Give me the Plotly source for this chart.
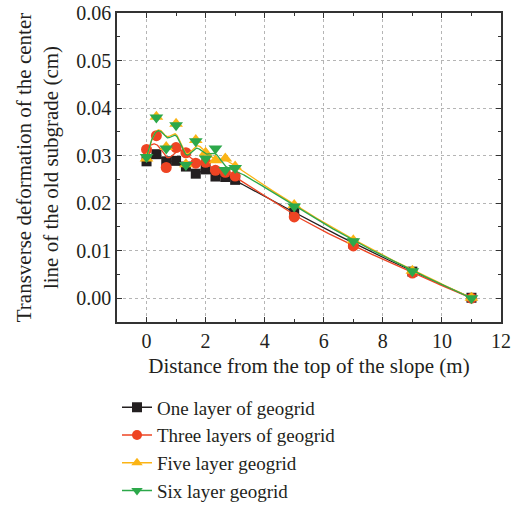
import numpy as np
import plotly.graph_objects as go

# ---------------- data ----------------
distance = [0, 1/3, 2/3, 1, 4/3, 5/3, 2, 7/3, 8/3, 3, 5, 7, 9, 11]
one_layer = [0.0288, 0.0303, 0.0288, 0.0289, 0.0277, 0.0262, 0.0271, 0.0256, 0.0255, 0.0249, 0.0180, 0.0115, 0.0056, 0.0001]
three_layers = [0.0313, 0.0342, 0.0275, 0.0317, 0.0306, 0.0284, 0.0286, 0.0269, 0.0265, 0.0257, 0.0171, 0.0110, 0.0053, 0.0000]
five_layers = [0.0294, 0.0382, 0.0318, 0.0367, 0.0282, 0.0333, 0.0306, 0.0290, 0.0294, 0.0277, 0.0196, 0.0122, 0.0058, 0.0001]
six_layers = [0.0297, 0.0380, 0.0315, 0.0364, 0.0280, 0.0330, 0.0294, 0.0315, 0.0270, 0.0274, 0.0193, 0.0120, 0.0057, 0.0000]

series_names = ["One layer of geogrid", "Three layers of geogrid",
                "Five layer geogrid", "Six layer geogrid"]
series_values = [one_layer, three_layers, five_layers, six_layers]
colors = ["#231f20", "#ee4423", "#fbb415", "#2ca84a"]
symbols = ["square", "circle", "triangle-up", "triangle-down"]
marker_sizes = [10, 11, 12, 12]

x_ticks = [0, 2, 4, 6, 8, 10, 12]
y_ticks = [0.00, 0.01, 0.02, 0.03, 0.04, 0.05, 0.06]
y_tick_labels = ["0.00", "0.01", "0.02", "0.03", "0.04", "0.05", "0.06"]


def bspline(xs, ys, k=3, num=500):
    """Clamped uniform cubic B-spline using data points as control points."""
    P = np.column_stack([xs, ys])
    n = len(P)
    inner = np.linspace(0, 1, n - k + 1)
    t = np.concatenate([[0] * k, inner, [1] * k])
    u = np.linspace(0, 1, num)
    m = len(t)
    N = np.zeros((m - 1, num))
    for i in range(m - 1):
        N[i] = ((u >= t[i]) & (u < t[i + 1])).astype(float)
    last = max(i for i in range(m - 1) if t[i] < t[i + 1])
    N[last, u == 1] = 1.0
    for p in range(1, k + 1):
        Nn = np.zeros((m - 1 - p, num))
        for i in range(m - 1 - p):
            a = np.zeros(num)
            b = np.zeros(num)
            if t[i + p] != t[i]:
                a = (u - t[i]) / (t[i + p] - t[i]) * N[i]
            if t[i + p + 1] != t[i + 1]:
                b = (t[i + p + 1] - u) / (t[i + p + 1] - t[i + 1]) * N[i + 1]
            Nn[i] = a + b
        N = Nn
    C = N.T @ P
    return C[:, 0], C[:, 1]


fig = go.Figure()
font_family = "Liberation Serif"
text_color = "#231f20"

for name, vals, col, sym, ms in zip(series_names, series_values, colors, symbols, marker_sizes):
    cx, cy = bspline(distance, vals)
    fig.add_trace(go.Scatter(x=cx, y=cy, mode="lines",
                             line=dict(color=col, width=1.3),
                             showlegend=False, hoverinfo="skip"))
    fig.add_trace(go.Scatter(x=distance, y=vals, mode="markers",
                             marker=dict(color=col, symbol=sym, size=ms,
                                         line=dict(width=0)),
                             showlegend=False))
    fig.add_trace(go.Scatter(x=[None], y=[None], mode="lines+markers", name=name,
                             line=dict(color=col, width=1.5),
                             marker=dict(color=col, symbol=sym, size=10)))

axis_common = dict(
    showline=True, linecolor="#333333", linewidth=1.5, mirror="allticks",
    ticks="inside", ticklen=5, tickwidth=1.2, tickcolor="#333333",
    showgrid=True, gridcolor="#b5b5b5", griddash="dot", gridwidth=1,
    zeroline=False,
    tickfont=dict(family=font_family, size=20, color=text_color),
)

fig.update_xaxes(
    range=[-1, 12], tickvals=x_ticks,
    minor=dict(ticks="inside", ticklen=3, tickcolor="#333333", dtick=1, showgrid=False),
    title=dict(text="Distance from the top of the slope (m)",
               font=dict(family=font_family, size=21, color=text_color), standoff=8),
    **axis_common,
)
fig.update_yaxes(
    range=[-0.005, 0.06], tickvals=y_ticks, ticktext=y_tick_labels,
    minor=dict(ticks="inside", ticklen=3, tickcolor="#333333", dtick=0.005, showgrid=False),
    title=dict(text="Transverse deformation of the center<br>line of the old subgrade (cm)",
               font=dict(family=font_family, size=21, color=text_color), standoff=12),
    **axis_common,
)

fig.update_layout(
    width=512, height=509,
    margin=dict(l=117, r=11, t=13, b=187, autoexpand=False),
    plot_bgcolor="white", paper_bgcolor="white",
    font=dict(family=font_family, color=text_color),
    legend=dict(x=0, y=-0.215, xanchor="left", yanchor="top",
                font=dict(family=font_family, size=19, color=text_color),
                itemwidth=30, bgcolor="rgba(0,0,0,0)", tracegroupgap=0),
)

fig.write_html("out.html")
